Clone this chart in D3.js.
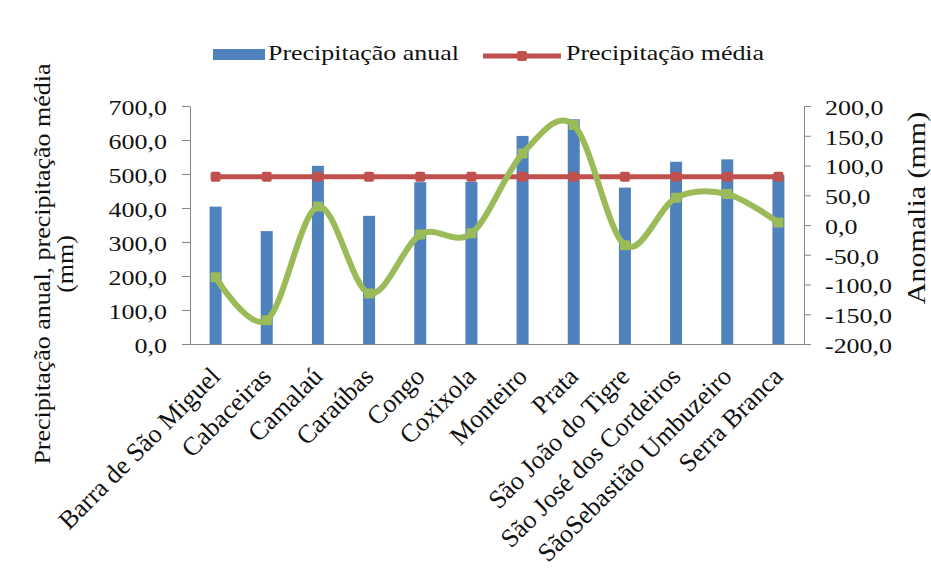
<!DOCTYPE html>
<html><head><meta charset="utf-8">
<script src="https://cdn.jsdelivr.net/npm/d3@7"></script>
<style>
body{margin:0;background:#fff}
svg text{font-family:"Liberation Serif","Times New Roman",serif;fill:#111}
</style>
</head><body>
<svg id="c" width="931" height="579"></svg>
<script>
const categories = ["Barra de São Miguel","Cabaceiras","Camalaú","Caraúbas","Congo","Coxixola","Monteiro","Prata","São João do Tigre","São José dos Cordeiros","SãoSebastião Umbuzeiro","Serra Branca"];
const annualPrecip = [404, 332, 524, 377, 476, 477, 612, 661, 460, 536, 543, 497];
const meanPrecip = [492, 492, 492, 492, 492, 492, 492, 492, 492, 492, 492, 492];
const anomaly = [-88, -160, 31, -115, -16, -14, 120, 168, -34, 46, 52, 4];
const leftTicks = [0, 100, 200, 300, 400, 500, 600, 700];
const rightTicks = [-200, -150, -100, -50, 0, 50, 100, 150, 200];
const seriesNames = ["Precipitação anual", "Precipitação média"];
const leftTitle = ["Precipitação anual, precipitação média", "(mm)"];
const rightTitle = "Anomalia (mm)";

const C = {bar:"#4f81bd", mean:"#c0504d", anom:"#9bbb59", axis:"#868686"};
const svg = d3.select("#c");
const M = {l:190, r:804, t:106, b:344};
const loc = d3.formatLocale({decimal:",", thousands:".", grouping:[3], currency:["",""], minus:"-"});
const fmt = loc.format(".1f");

const x = d3.scaleBand().domain(categories).range([M.l, M.r]);
const cx = c => x(c) + x.bandwidth()/2;
const y = d3.scaleLinear().domain([0,700]).range([M.b, M.t]);
const y2 = d3.scaleLinear().domain([-200,200]).range([M.b, M.t]);

// bars
svg.append("g").selectAll("rect").data(categories).join("rect")
  .attr("x", c => cx(c) - 6).attr("width", 12)
  .attr("y", (c,i) => y(annualPrecip[i])).attr("height", (c,i) => y(0) - y(annualPrecip[i]))
  .attr("fill", C.bar);

// axes
function styleAxis(g){
  g.select(".domain").attr("stroke", C.axis);
  g.selectAll(".tick line").attr("stroke", C.axis);
}
const gl = svg.append("g").attr("transform",`translate(${M.l},0)`)
  .call(d3.axisLeft(y).tickValues(leftTicks).tickSize(8).tickSizeOuter(0).tickFormat(fmt));
styleAxis(gl);
gl.selectAll(".tick text").attr("x",0).attr("dy","0.38em")
  .attr("transform","translate(-23,0) scale(1.18,1)")
  .attr("font-size",22).attr("font-family","Liberation Serif").attr("fill","#111").attr("text-anchor","end");

const gr = svg.append("g").attr("transform",`translate(${M.r},0)`)
  .call(d3.axisRight(y2).tickValues(rightTicks).tickSize(7).tickSizeOuter(0).tickFormat(fmt));
styleAxis(gr);
gr.selectAll(".tick text").attr("x",0).attr("dy","0.38em")
  .attr("transform","translate(21,0) scale(1.18,1)")
  .attr("font-size",22).attr("font-family","Liberation Serif").attr("fill","#111").attr("text-anchor","start");

const gb = svg.append("g").attr("transform",`translate(0,${M.b})`)
  .call(d3.axisBottom(x).tickSize(0).tickSizeOuter(0));
styleAxis(gb);
gb.selectAll(".tick text").attr("y",0).attr("dy",0)
  .attr("transform","translate(6,34) rotate(-45)")
  .attr("font-size",26).attr("font-family","Liberation Serif").attr("fill","#111").attr("text-anchor","end");

// mean line
const lineMean = d3.line().x((d,i) => cx(categories[i])).y(d => y(d));
svg.append("path").datum(meanPrecip).attr("d", lineMean)
  .attr("fill","none").attr("stroke",C.mean).attr("stroke-width",5);
svg.append("g").selectAll("rect").data(meanPrecip).join("rect")
  .attr("x",(d,i)=>cx(categories[i])-5).attr("y",d=>y(d)-5).attr("width",10).attr("height",10).attr("rx",2)
  .attr("fill",C.mean);

// anomaly line
const lineAnom = d3.line().x((d,i) => cx(categories[i])).y(d => y2(d)).curve(d3.curveCardinal);
svg.append("path").datum(anomaly).attr("d", lineAnom)
  .attr("fill","none").attr("stroke",C.anom).attr("stroke-width",6);
svg.append("g").selectAll("rect").data(anomaly).join("rect")
  .attr("x",(d,i)=>cx(categories[i])-5).attr("y",d=>y2(d)-5).attr("width",10).attr("height",10).attr("rx",1)
  .attr("fill",C.anom);

// legend
const lg = svg.append("g");
lg.append("rect").attr("x",213).attr("y",49).attr("width",52).attr("height",11).attr("fill",C.bar);
lg.append("text").attr("transform","translate(268,60) scale(1.18,1)").attr("font-size",22).text(seriesNames[0]);
lg.append("line").attr("x1",483).attr("x2",561).attr("y1",56).attr("y2",56).attr("stroke",C.mean).attr("stroke-width",5);
lg.append("rect").attr("x",517).attr("y",51).attr("width",10).attr("height",10).attr("rx",2).attr("fill",C.mean);
lg.append("text").attr("transform","translate(566,60) scale(1.18,1)").attr("font-size",22).text(seriesNames[1]);

// axis titles
svg.append("text").attr("transform","translate(50,264) rotate(-90) scale(1,0.87)")
  .attr("text-anchor","middle").attr("font-size",26).text(leftTitle[0]);
svg.append("text").attr("transform","translate(73,264) rotate(-90) scale(1,0.87)")
  .attr("text-anchor","middle").attr("font-size",26).text(leftTitle[1]);
svg.append("text").attr("transform","translate(925,208) rotate(-90) scale(1,0.85)")
  .attr("text-anchor","middle").attr("font-size",30).text(rightTitle);
</script>
</body></html>
